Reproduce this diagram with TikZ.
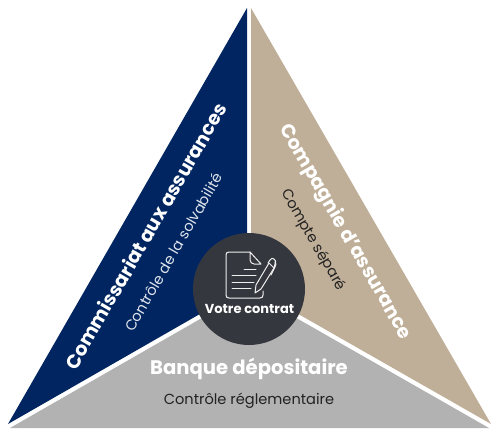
\documentclass[tikz,border=0pt]{standalone}
\usepackage{fontspec}
\setmainfont{Poppins}
\definecolor{navy}{HTML}{002561}
\definecolor{sand}{HTML}{C0AF98}
\definecolor{greyzone}{HTML}{B2B2B2}
\definecolor{disc}{HTML}{35373E}
\definecolor{ink}{HTML}{222222}
\tikzset{
 x=1pt,y=-1pt,
 title/.style={text=white,font=\bfseries\fontsize{19.2}{22}\selectfont,inner sep=0pt},
 sub/.style={font=\fontsize{14.6}{17}\selectfont,inner sep=0pt},
 iconline/.style={draw=white!92!disc,line width=1pt,line join=round,line cap=round},
}
\begin{document}
\begin{tikzpicture}
\useasboundingbox (0,0) rectangle (500,438);
\fill[navy] (247,8) -- (8,424) -- (247,287) -- cycle;
\fill[sand] (251,8) -- (491,424) -- (251,287) -- cycle;
\fill[greyzone] (249,291) -- (489,428) -- (10,428) -- cycle;
\node[circle,fill=disc,minimum size=112pt,inner sep=0pt] (hub) at (249,289) {};
% icon
\draw[iconline] (250,252) -- (229,252) .. controls (227,252) and (226,253) .. (226,255) -- (226,295) .. controls (226,297) and (227,298) .. (229,298) -- (260,298) .. controls (262,298) and (263,297) .. (263,295) -- (263,291);
\draw[iconline] (250,252) -- (250,260) .. controls (250,262) and (252,264) .. (254,264) -- (261,264) -- cycle;
\draw[iconline] (244,269) -- (256,269) (232,275) -- (256,275) (232,282) -- (254,282) (232,288) -- (251,288);
\draw[iconline] (269,263) -- (256,285) -- (255,293) -- (261,289) -- (274,268) -- cycle;
\draw[iconline] (268,263) -- (270,260) .. controls (271,258) and (273,258) .. (274,259) .. controls (276,260) and (276,262) .. (275,264) -- (274,268);
\draw[iconline] (275,262) .. controls (278,264) and (273,270) .. (271,275);
\node[text=white,inner sep=0pt,font=\bfseries\fontsize{13}{15}\selectfont] (hubtext) at (249.5,309) {Votre contrat};
\node[title,rotate=60] (t1) at (145.5,236) {Commissariat aux assurances};
\node[sub,rotate=60,text=white!88!navy] (s1) at (173.5,252) {Contrôle de la solvabilité};
\node[title,rotate=-60] (t2) at (345,232) {Compagnie d'assurance};
\node[sub,rotate=-60,text=ink] (s2) at (313,240) {Compte séparé};
\node[title,font=\bfseries\fontsize{19.6}{22}\selectfont] (t3) at (249,369) {Banque dépositaire};
\node[sub,text=ink] (s3) at (249,401) {Contrôle réglementaire};
\end{tikzpicture}
\end{document}
